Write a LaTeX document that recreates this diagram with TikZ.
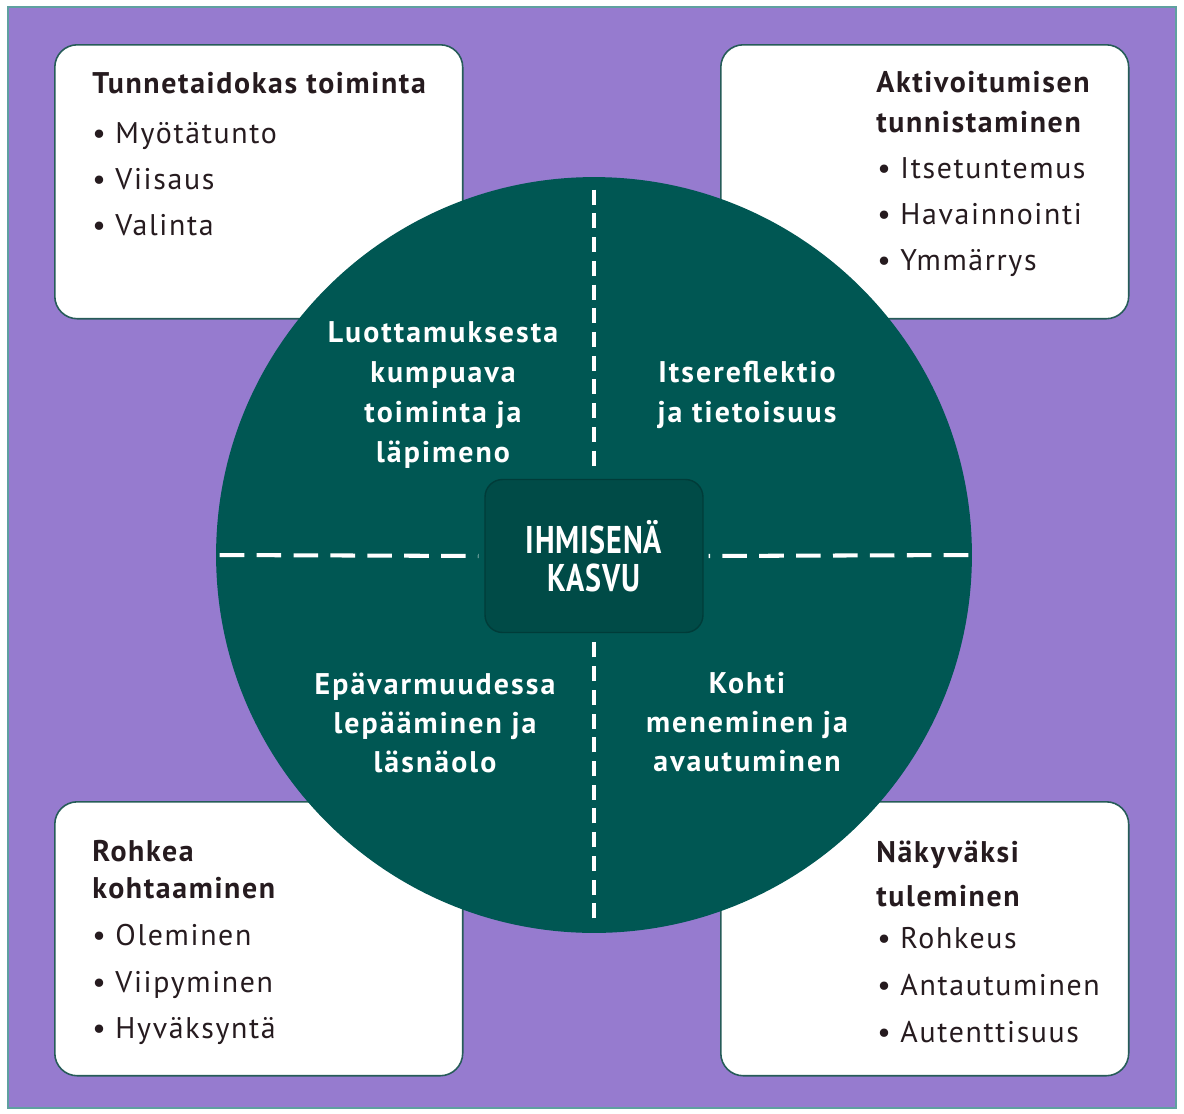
\documentclass[tikz,border=0pt]{standalone}
\usepackage{fontspec}
\setmainfont{PT Sans}
\newfontfamily\cardfont[LetterSpace=5.5]{PT Sans}
\newfontfamily\quarterfont[LetterSpace=7]{PT Sans}
\newfontfamily\corefont[FakeStretch=0.78,LetterSpace=2]{PT Sans}

\definecolor{bgpurple}{RGB}{150,123,207}
\definecolor{circteal}{RGB}{0,87,83}
\definecolor{coreteal}{RGB}{0,75,71}
\definecolor{coreline}{RGB}{0,60,57}
\definecolor{cardline}{RGB}{38,92,88}
\definecolor{frameline}{RGB}{95,160,160}
\definecolor{ink}{RGB}{38,27,31}

\tikzset{
  card/.style={draw=cardline, line width=0.9pt, fill=white, rounded corners=0.45cm,
      minimum width=8.16cm, minimum height=5.48cm, anchor=north west, inner sep=0},
  cardhead/.style={font=\cardfont\fontsize{17}{20}\selectfont\bfseries, text=ink, anchor=base west, inner sep=0},
  carditem/.style={font=\cardfont\fontsize{17}{20}\selectfont, text=ink, anchor=base west, inner sep=0},
  quarter/.style={font=\quarterfont\fontsize{17}{20}\selectfont\bfseries, text=white, anchor=base, inner sep=0},
  hsplit/.style={white, line width=2.3pt, dash pattern=on 14pt off 7pt},
  vsplit/.style={white, line width=2.3pt, dash pattern=on 8.5pt off 5pt},
}

\begin{document}
\begin{tikzpicture}[x=0.02cm, y=-0.02cm]
  \useasboundingbox (0,0) rectangle (1184,1113);
  \fill[bgpurple, draw=frameline, line width=0.8pt] (8,7) rectangle (1176,1108);

  % corner cards
  \node[card] (tlcard) at (54,44) {};
  \node[card] (trcard) at (720,44) {};
  \node[card] (blcard) at (54,801) {};
  \node[card] (brcard) at (720,801) {};

  % the circle and its centre
  \node[circle, fill=circteal, minimum size=15.12cm, inner sep=0] (circ) at (594,555) {};
  \node[draw=coreline, fill=coreteal, line width=0.8pt, rounded corners=0.35cm,
      minimum width=4.36cm, minimum height=3.06cm, text=white, align=center,
      font=\corefont\fontsize{22}{21.6}\selectfont\bfseries] (core) at (594,556) {IHMISENÄ\\KASVU};
  \draw[vsplit, shorten <=0.26cm, shorten >=0.2cm] (circ.north) -- (core.north);
  \draw[vsplit, shorten <=0.3cm, shorten >=0.14cm] (circ.south) -- (core.south);
  \draw[hsplit, shorten <=0.08cm, shorten >=0.12cm] (circ.west) -- (core.west);
  \draw[hsplit, shorten <=0.08cm, shorten >=0.1cm] (circ.east) -- (core.east);

  % quarters
  \foreach \t [count=\i] in {Luottamuksesta,kumpuava,toiminta ja,läpimeno}
    \node[quarter] (tlq\i) at (443,{302+40*\i}) {\t};
  \foreach \t [count=\i] in {Itsereflektio,ja tietoisuus}
    \node[quarter] (trq\i) at (747,{342+40*\i}) {\t};
  \foreach \t [count=\i] in {Epävarmuudessa,lepääminen ja,läsnäolo}
    \node[quarter] (blq\i) at (435,{655+39*\i}) {\t};
  \foreach \t [count=\i] in {Kohti,meneminen ja,avautuminen}
    \node[quarter] (brq\i) at (747,{654+39*\i}) {\t};

  % card texts
  \node[cardhead] (tlhead1) at (92,93) {Tunnetaidokas toiminta};
  \foreach \t [count=\i] in {Myötätunto,Viisaus,Valinta}
    \node[carditem] (tlitem\i) at (92,{97+46*\i}) {•\ \t};

  \foreach \t [count=\i] in {Aktivoitumisen,tunnistaminen}
    \node[cardhead] (trhead\i) at (876,{52+40*\i}) {\t};
  \foreach \t [count=\i] in {Itsetuntemus,Havainnointi,Ymmärrys}
    \node[carditem] (tritem\i) at (877,{132+46*\i}) {•\ \t};

  \foreach \t [count=\i] in {Rohkea,kohtaaminen}
    \node[cardhead] (blhead\i) at (92,{824+37*\i}) {\t};
  \foreach \t [count=\i] in {Oleminen,Viipyminen,Hyväksyntä}
    \node[carditem] (blitem\i) at (92,{899+46.5*\i}) {•\ \t};

  \foreach \t [count=\i] in {Näkyväksi,tuleminen}
    \node[cardhead] (brhead\i) at (876,{818+44*\i}) {\t};
  \foreach \t [count=\i] in {Rohkeus,Antautuminen,Autenttisuus}
    \node[carditem] (britem\i) at (877,{901+47*\i}) {•\ \t};
\end{tikzpicture}
\end{document}
